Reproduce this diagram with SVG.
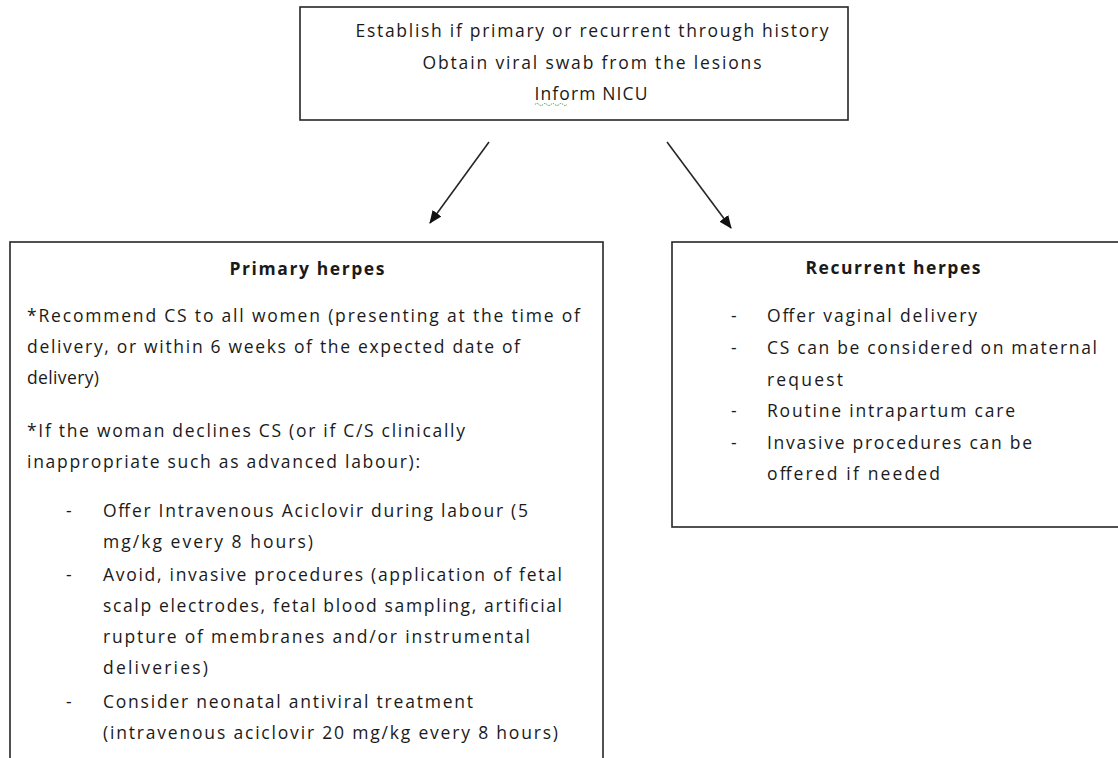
<svg xmlns="http://www.w3.org/2000/svg" width="1118" height="758" viewBox="0 0 1118 758">
  <style>
    .box { fill: #ffffff; stroke: #262626; stroke-width: 1.6; }
    .t { font-family: "Open Sans", "Noto Sans", "Liberation Sans", sans-serif; font-size: 17.5px; fill: #1a1a1a; }
    .c { text-anchor: middle; }
    .h { font-weight: bold; }
    .link { stroke: #262626; stroke-width: 1.6; fill: none; }
    .squiggle { stroke: #3aa845; stroke-width: 1; fill: none; stroke-dasharray: 1.5 1; }
  </style>
  <defs>
    <marker id="arrow" viewBox="0 0 13 11" refX="12" refY="5.5" markerWidth="13" markerHeight="11" markerUnits="userSpaceOnUse" orient="auto">
      <path d="M0,0 L13,5.5 L0,11 Z" fill="#111111"/>
    </marker>
  </defs>

  <rect width="1118" height="758" fill="#ffffff"/>

  <!-- initial assessment -->
  <g id="node-assess">
    <rect class="box" x="300" y="7" width="548" height="113"/>
    <text class="t c" x="592" y="37" textLength="473" lengthAdjust="spacing">Establish if primary or recurrent through history</text>
    <text class="t c" x="592" y="69" textLength="339" lengthAdjust="spacing">Obtain viral swab from the lesions</text>
    <text class="t c" x="591" y="100" textLength="113" lengthAdjust="spacing">Inform NICU</text>
    <path class="squiggle" d="M535,104.5 q2,-2 4,0 t4,0 t4,0 t4,0 t4,0 t4,0 t4,0 t4,0"/>
  </g>

  <!-- connectors -->
  <g id="connectors">
    <line class="link" x1="489" y1="142" x2="430" y2="223" marker-end="url(#arrow)"/>
    <line class="link" x1="667" y1="142" x2="731" y2="228" marker-end="url(#arrow)"/>
  </g>

  <!-- primary herpes pathway -->
  <g id="node-primary">
    <rect class="box" x="10" y="242" width="593" height="530"/>
    <text class="t c h" x="307" y="275" textLength="155" lengthAdjust="spacing">Primary herpes</text>
    <text class="t" x="27" y="322" textLength="553" lengthAdjust="spacing">*Recommend CS to all women (presenting at the time of</text>
    <text class="t" x="27" y="353" textLength="493" lengthAdjust="spacing">delivery, or within 6 weeks of the expected date of</text>
    <text class="t" x="27" y="384" textLength="72" lengthAdjust="spacing">delivery)</text>
    <text class="t" x="27" y="437" textLength="438" lengthAdjust="spacing">*If the woman declines CS (or if C/S clinically</text>
    <text class="t" x="27" y="468" textLength="393" lengthAdjust="spacing">inappropriate such as advanced labour):</text>

    <text class="t" x="66" y="517">-</text>
    <text class="t" x="103" y="517" textLength="425" lengthAdjust="spacing">Offer Intravenous Aciclovir during labour (5</text>
    <text class="t" x="103" y="548" textLength="210" lengthAdjust="spacing">mg/kg every 8 hours)</text>

    <text class="t" x="66" y="581">-</text>
    <text class="t" x="103" y="581" textLength="459" lengthAdjust="spacing">Avoid, invasive procedures (application of fetal</text>
    <text class="t" x="103" y="612" textLength="459" lengthAdjust="spacing">scalp electrodes, fetal blood sampling, artificial</text>
    <text class="t" x="103" y="643" textLength="427" lengthAdjust="spacing">rupture of membranes and/or instrumental</text>
    <text class="t" x="103" y="674" textLength="105" lengthAdjust="spacing">deliveries)</text>

    <text class="t" x="66" y="708">-</text>
    <text class="t" x="103" y="708" textLength="370" lengthAdjust="spacing">Consider neonatal antiviral treatment</text>
    <text class="t" x="103" y="739" textLength="455" lengthAdjust="spacing">(intravenous aciclovir 20 mg/kg every 8 hours)</text>
  </g>

  <!-- recurrent herpes pathway -->
  <g id="node-recurrent">
    <rect class="box" x="672" y="242" width="460" height="285"/>
    <text class="t c h" x="893" y="274" textLength="175" lengthAdjust="spacing">Recurrent herpes</text>

    <text class="t" x="731" y="322">-</text>
    <text class="t" x="767" y="322" textLength="210" lengthAdjust="spacing">Offer vaginal delivery</text>

    <text class="t" x="731" y="354">-</text>
    <text class="t" x="767" y="354" textLength="330" lengthAdjust="spacing">CS can be considered on maternal</text>
    <text class="t" x="767" y="386" textLength="76" lengthAdjust="spacing">request</text>

    <text class="t" x="731" y="417">-</text>
    <text class="t" x="767" y="417" textLength="248" lengthAdjust="spacing">Routine intrapartum care</text>

    <text class="t" x="731" y="449">-</text>
    <text class="t" x="767" y="449" textLength="265" lengthAdjust="spacing">Invasive procedures can be</text>
    <text class="t" x="767" y="480" textLength="173" lengthAdjust="spacing">offered if needed</text>
  </g>
</svg>
